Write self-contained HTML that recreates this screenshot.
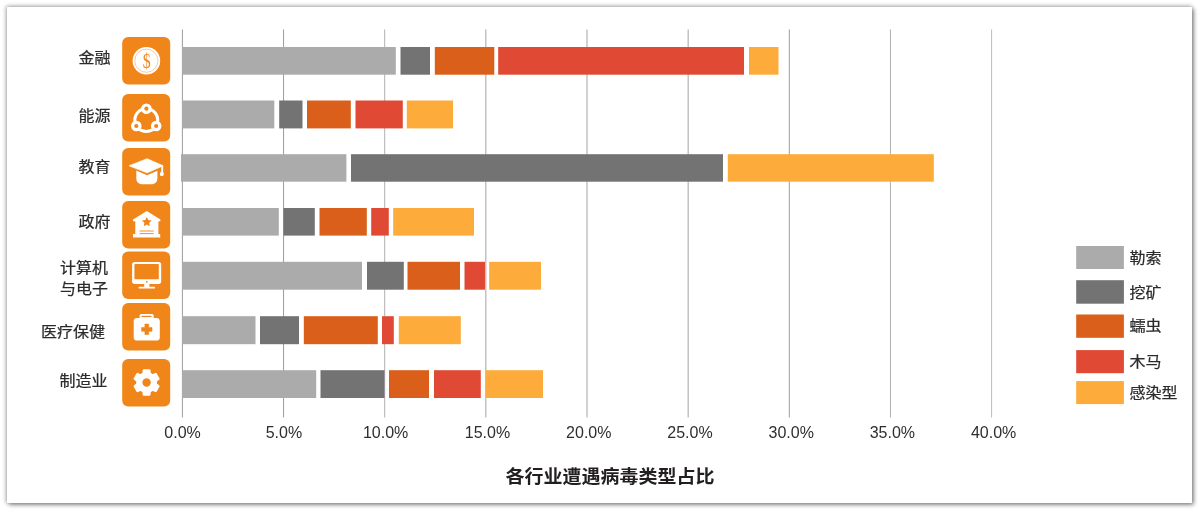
<!DOCTYPE html>
<html lang="zh-CN"><head><meta charset="utf-8"><title>各行业遭遇病毒类型占比</title>
<style>
html,body{margin:0;padding:0;background:#fff;}
body{width:1200px;height:511px;position:relative;overflow:hidden;font-family:"Liberation Sans","Noto Sans CJK SC",sans-serif;}
#panel{position:absolute;left:7px;top:7px;width:1185px;height:496px;background:#fff;border-radius:0.5px;box-shadow:-0.5px -0.5px 4px rgba(0,0,0,0.33),2px 2px 4px rgba(0,0,0,0.38);}
svg{position:absolute;left:0;top:0;}
text{font-family:"Liberation Sans","Noto Sans CJK SC",sans-serif;}
.lab{font-size:16px;fill:#2b2b2b;stroke:#2b2b2b;stroke-width:0.25px;}
.tick{font-size:16px;fill:#2e2e2e;text-anchor:middle;}
.title{font-size:19px;font-weight:bold;fill:#231f20;text-anchor:middle;}
</style></head><body>
<div id="panel"></div>
<svg width="1200" height="511" viewBox="0 0 1200 511">
<g id="grid" stroke-width="1">
<line x1="182.40" y1="29.5" x2="182.40" y2="417.5" stroke="#9c9c9c"/>
<line x1="283.55" y1="29.5" x2="283.55" y2="417.5" stroke="#9c9c9c"/>
<line x1="384.70" y1="29.5" x2="384.70" y2="417.5" stroke="#b0b0b0"/>
<line x1="485.85" y1="29.5" x2="485.85" y2="417.5" stroke="#a4a4a4"/>
<line x1="587.00" y1="29.5" x2="587.00" y2="417.5" stroke="#a4a4a4"/>
<line x1="688.15" y1="29.5" x2="688.15" y2="417.5" stroke="#a4a4a4"/>
<line x1="789.30" y1="29.5" x2="789.30" y2="417.5" stroke="#9c9c9c"/>
<line x1="890.45" y1="29.5" x2="890.45" y2="417.5" stroke="#b0b0b0"/>
<line x1="991.60" y1="29.5" x2="991.60" y2="417.5" stroke="#bcbcbc"/>
</g>
<g id="bars">
<rect x="182.20" y="47.00" width="213.60" height="27.70" fill="#ababab"/>
<rect x="400.50" y="47.00" width="29.50" height="27.70" fill="#737373"/>
<rect x="434.80" y="47.00" width="59.50" height="27.70" fill="#d95f1a"/>
<rect x="498.20" y="47.00" width="245.80" height="27.70" fill="#e04a35"/>
<rect x="749.00" y="47.00" width="29.50" height="27.70" fill="#fdab3b"/>
<rect x="182.20" y="100.50" width="92.10" height="27.90" fill="#ababab"/>
<rect x="279.20" y="100.50" width="23.30" height="27.90" fill="#737373"/>
<rect x="307.00" y="100.50" width="43.80" height="27.90" fill="#d95f1a"/>
<rect x="355.50" y="100.50" width="47.30" height="27.90" fill="#e04a35"/>
<rect x="406.80" y="100.50" width="46.20" height="27.90" fill="#fdab3b"/>
<rect x="181.00" y="154.20" width="165.40" height="27.50" fill="#ababab"/>
<rect x="351.00" y="154.20" width="372.00" height="27.50" fill="#737373"/>
<rect x="727.80" y="154.20" width="206.00" height="27.50" fill="#fdab3b"/>
<rect x="182.20" y="208.00" width="96.60" height="27.60" fill="#ababab"/>
<rect x="283.50" y="208.00" width="31.30" height="27.60" fill="#737373"/>
<rect x="319.50" y="208.00" width="47.30" height="27.60" fill="#d95f1a"/>
<rect x="371.20" y="208.00" width="17.60" height="27.60" fill="#e04a35"/>
<rect x="393.20" y="208.00" width="80.80" height="27.60" fill="#fdab3b"/>
<rect x="182.20" y="261.80" width="179.80" height="27.90" fill="#ababab"/>
<rect x="367.00" y="261.80" width="36.80" height="27.90" fill="#737373"/>
<rect x="407.50" y="261.80" width="52.50" height="27.90" fill="#d95f1a"/>
<rect x="464.50" y="261.80" width="20.50" height="27.90" fill="#e04a35"/>
<rect x="489.20" y="261.80" width="51.80" height="27.90" fill="#fdab3b"/>
<rect x="182.20" y="316.20" width="73.30" height="28.00" fill="#ababab"/>
<rect x="260.00" y="316.20" width="39.00" height="28.00" fill="#737373"/>
<rect x="303.80" y="316.20" width="74.00" height="28.00" fill="#d95f1a"/>
<rect x="382.00" y="316.20" width="11.80" height="28.00" fill="#e04a35"/>
<rect x="398.80" y="316.20" width="62.00" height="28.00" fill="#fdab3b"/>
<rect x="182.20" y="370.20" width="134.00" height="27.80" fill="#ababab"/>
<rect x="320.50" y="370.20" width="64.00" height="27.80" fill="#737373"/>
<rect x="389.00" y="370.20" width="40.00" height="27.80" fill="#d95f1a"/>
<rect x="434.00" y="370.20" width="46.80" height="27.80" fill="#e04a35"/>
<rect x="485.80" y="370.20" width="57.20" height="27.80" fill="#fdab3b"/>
</g>
<g id="ticks">
<text class="tick" x="182.6" y="438.4">0.0%</text>
<text class="tick" x="283.9" y="438.4">5.0%</text>
<text class="tick" x="385.6" y="438.4">10.0%</text>
<text class="tick" x="487.5" y="438.4">15.0%</text>
<text class="tick" x="588.8" y="438.4">20.0%</text>
<text class="tick" x="690.0" y="438.4">25.0%</text>
<text class="tick" x="791.2" y="438.4">30.0%</text>
<text class="tick" x="892.4" y="438.4">35.0%</text>
<text class="tick" x="993.6" y="438.4">40.0%</text>
</g>
<g id="labels">
<text class="lab" transform="translate(78.6,62.9) scale(1,0.94)">金融</text>
<text class="lab" transform="translate(78.6,120.5) scale(1,0.94)">能源</text>
<text class="lab" transform="translate(78.6,171.8) scale(1,0.94)">教育</text>
<text class="lab" transform="translate(78.6,227.1) scale(1,0.94)">政府</text>
<text class="lab" transform="translate(60.0,273.1) scale(1,0.94)">计算机</text>
<text class="lab" transform="translate(60.0,294.0) scale(1,0.94)">与电子</text>
<text class="lab" transform="translate(41.0,336.5) scale(1,0.94)">医疗保健</text>
<text class="lab" transform="translate(59.5,385.9) scale(1,0.94)">制造业</text>
</g>
<g id="legend">
<rect x="1076.2" y="246.0" width="47.7" height="23.0" fill="#ababab"/>
<text class="lab" transform="translate(1129.4,263.0) scale(1,0.94)">勒索</text>
<rect x="1076.2" y="280.2" width="47.7" height="23.5" fill="#737373"/>
<text class="lab" transform="translate(1129.4,297.8) scale(1,0.94)">挖矿</text>
<rect x="1076.2" y="314.5" width="47.7" height="23.3" fill="#d95f1a"/>
<text class="lab" transform="translate(1129.4,330.8) scale(1,0.94)">蠕虫</text>
<rect x="1076.2" y="350.1" width="47.7" height="23.1" fill="#e04a35"/>
<text class="lab" transform="translate(1129.4,366.6) scale(1,0.94)">木马</text>
<rect x="1076.2" y="381.1" width="47.7" height="23.0" fill="#fdab3b"/>
<text class="lab" transform="translate(1129.4,398.4) scale(1,0.94)">感染型</text>
</g>
<text class="title" transform="translate(610.0,483.3) scale(1,0.95)">各行业遭遇病毒类型占比</text>
<g id="icons">
<g transform="translate(122.2,37.0)">
<rect x="0" y="0" width="48" height="47.6" rx="6" ry="6" fill="#f0851a"/>
<circle cx="24.2" cy="23.7" r="13.8" fill="#fff"/>
<circle cx="24.2" cy="23.7" r="11.6" fill="none" stroke="#f0851a" stroke-width="0.7" stroke-opacity="0.6"/>
<text x="0" y="0" transform="translate(24.5,31.2) scale(0.72,1)" text-anchor="middle" style="font-size:22px;font-family:'Liberation Serif',serif" fill="#f0851a">$</text>
</g>
<g transform="translate(122.2,94.0)">
<rect x="0" y="0" width="48" height="47.6" rx="6" ry="6" fill="#f0851a"/>
<circle cx="24.05" cy="26.1" r="11.5" fill="none" stroke="#fff" stroke-width="3"/>
<g fill="#f0851a" stroke="#fff" stroke-width="3.2"><circle cx="24.2" cy="14.7" r="3.7"/><circle cx="14.1" cy="32" r="3.7"/><circle cx="34" cy="32" r="3.7"/></g>
</g>
<g transform="translate(122.2,148.0)">
<rect x="0" y="0" width="48" height="47.6" rx="6" ry="6" fill="#f0851a"/>
<path d="M6.8 17.8 L24.9 10.7 L41 17.8 L24.9 24.8 Z" fill="#fff" stroke="#fff" stroke-width="0.7" stroke-linejoin="round"/>
<path d="M14.1 22.6 L24.9 27.2 L35.2 22.7 L35.2 30.2 C35.2 34.6 32.2 36.3 28.6 36.3 L20.7 36.3 C17.1 36.3 14.1 34.6 14.1 30.2 Z" fill="#fff"/>
<path d="M40 18 L40 25.5" stroke="#fff" stroke-width="1.9" fill="none"/>
<ellipse cx="39.6" cy="25.9" rx="2" ry="2.2" fill="#fff"/>
</g>
<g transform="translate(122.2,201.0)">
<rect x="0" y="0" width="48" height="47.6" rx="6" ry="6" fill="#f0851a"/>
<path d="M24.6 10.1 L38.2 18.6 L38.2 20.2 L36.2 20.2 L36.2 33.1 L38 33.1 L38 36.6 L10.8 36.6 L10.8 33.1 L13.1 33.1 L13.1 20.2 L10.8 20.2 L10.8 18.6 Z" fill="#fff"/>
<path d="M24.60 16.00 L26.07 19.08 L29.45 19.52 L26.98 21.87 L27.60 25.23 L24.60 23.60 L21.60 25.23 L22.22 21.87 L19.75 19.52 L23.13 19.08 Z" fill="#f0851a"/>
<path d="M17.4 30 H31.5 M17.4 32.6 H31.5" stroke="#f0851a" stroke-width="0.9" fill="none"/>
</g>
<g transform="translate(122.2,251.5)">
<rect x="0" y="0" width="48" height="47.6" rx="6" ry="6" fill="#f0851a"/>
<rect x="9.9" y="10.6" width="29.1" height="21.8" rx="2.6" fill="#fff"/>
<rect x="12.2" y="12.6" width="24.4" height="15.1" rx="0.8" fill="#f0851a"/>
<circle cx="24.6" cy="30.3" r="0.9" fill="#f0851a"/>
<rect x="22" y="32" width="5.2" height="4" fill="#fff"/>
<rect x="16.4" y="35.2" width="16.5" height="1.9" rx="0.9" fill="#fff"/>
</g>
<g transform="translate(122.2,303.0)">
<rect x="0" y="0" width="48" height="47.6" rx="6" ry="6" fill="#f0851a"/>
<rect x="17.4" y="11.1" width="14.1" height="7" rx="1.6" fill="#fff"/>
<rect x="19.4" y="12.8" width="9.8" height="1.3" fill="#f0851a"/>
<rect x="11.5" y="15" width="26.1" height="22.6" rx="3.4" fill="#fff"/>
<path d="M22.7 21.1 h3.8 v3.3 h3.3 v3.8 h-3.3 v3.3 h-3.8 v-3.3 h-3.3 v-3.8 h3.3 Z" fill="#f0851a" stroke="#f0851a" stroke-width="0.6" stroke-linejoin="round"/>
</g>
<g transform="translate(122.2,359.0)">
<rect x="0" y="0" width="48" height="47.6" rx="6" ry="6" fill="#f0851a"/>
<path d="M21.35 14.61 L21.69 11.40 L27.11 11.40 L27.45 14.61 L30.58 16.42 L33.53 15.11 L36.23 19.79 L33.62 21.69 L33.62 25.31 L36.23 27.21 L33.53 31.89 L30.58 30.58 L27.45 32.39 L27.11 35.60 L21.69 35.60 L21.35 32.39 L18.22 30.58 L15.27 31.89 L12.57 27.21 L15.18 25.31 L15.18 21.69 L12.57 19.79 L15.27 15.11 L18.22 16.42 Z" fill="#fff" stroke="#fff" stroke-width="2.4" stroke-linejoin="round"/>
<circle cx="24.4" cy="23.5" r="4.2" fill="#f0851a"/>
</g>
</g>
</svg>
</body></html>
